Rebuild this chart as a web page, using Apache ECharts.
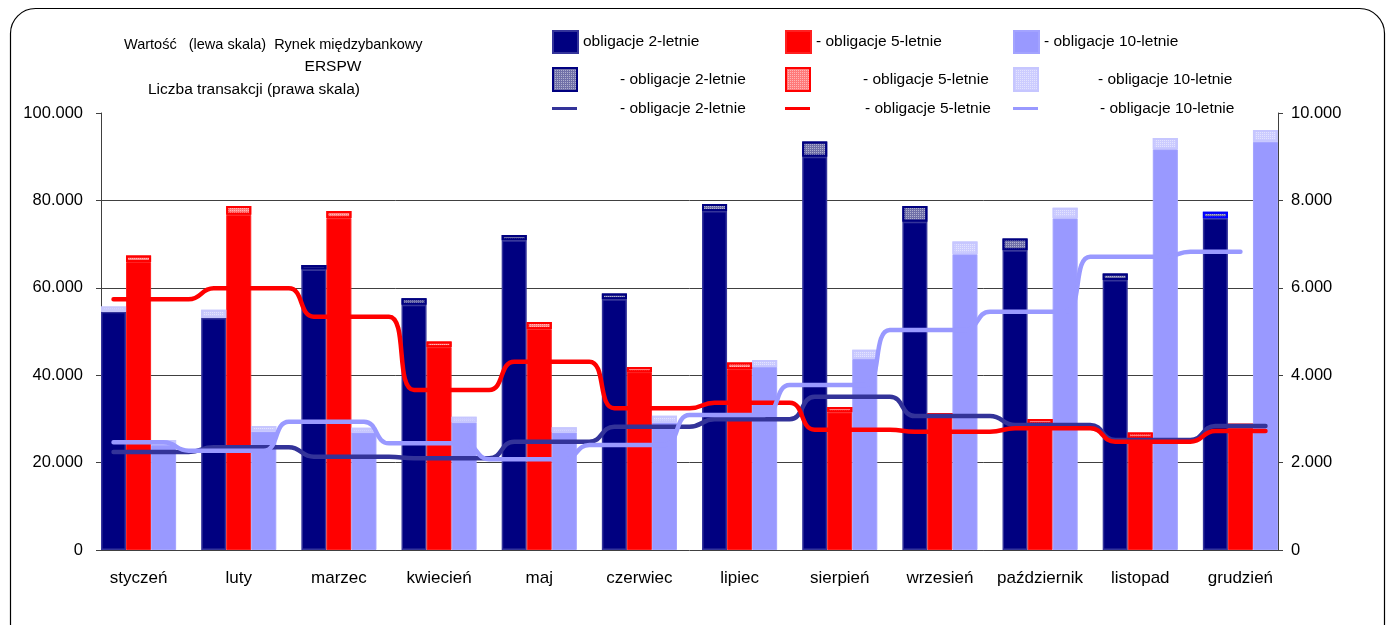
<!DOCTYPE html>
<html><head><meta charset="utf-8">
<script src="https://cdn.jsdelivr.net/npm/echarts@6/dist/echarts.min.js"></script>
<style>html,body{margin:0;padding:0;background:#fff}#c{width:1391px;height:625px}</style>
</head><body><div id="c"></div>
<script>
// ---- data ----
const months = ['styczeń','luty','marzec','kwiecień','maj','czerwiec','lipiec','sierpień','wrzesień','październik','listopad','grudzień'];
// value (left scale), interbank market
const interbank2  = [54500, 53100, 64200, 56100, 70900, 57400, 77600, 90000, 75100, 68600, 61800, 75900];
const interbank5  = [65900, 76700, 75900, 46400, 50600, 40700, 41400, 31500, 30400, 28800, 25600, 28000];
const interbank10 = [24000, 27100, 26900, 29200, 26900, 29200, 41900, 43700, 67700, 75900, 91700, 93400];
// value (left scale), ERSPW
const erspw2  = [1200, 1900, 1000, 1500, 1200, 1300, 1600, 3500, 3600, 2700, 1500, 1500];
const erspw5  = [1500, 2000, 1700, 1300, 1600, 1200, 1500, 1200,  900, 1200, 1300,  900];
const erspw10 = [1200, 1300, 1100, 1300, 1200, 1500, 1600, 2100, 2900, 2400, 2600, 2700];
// number of transactions (right scale)
const trans2  = [2243, 2350, 2135, 2098, 2479, 2822, 2990, 3508, 3066, 2860, 2517, 2838];
const trans5  = [5737, 5989, 5339, 3661, 4309, 3243, 3371, 2753, 2708, 2784, 2479, 2723];
const trans10 = [2465, 2272, 2936, 2441, 2075, 2403, 3089, 3773, 5034, 5454, 6712, 6826];
const leftTicks  = {min: 0, max: 100000, interval: 20000};
const rightTicks = {min: 0, max: 10000, interval: 2000};

// ---- build ----
const SLOTS = 47; // 4 slots per month (3 bars + gap), last month without gap
const slotNames = [], slotLabels = [];
for (let i = 0; i < SLOTS; i++) { slotNames.push('s' + i); slotLabels.push(i % 4 === 1 ? months[(i - 1) / 4] : ''); }
function barSlots(vals, off) { const a = new Array(SLOTS).fill('-'); vals.forEach((v, m) => { a[4 * m + off] = v; }); return a; }
function lineSlotsA(vals) { const a = []; for (let i = 0; i < SLOTS; i++) a.push(vals[Math.floor(i / 4)]); return a; }
function lineSlotsB(vals) { const a = []; for (let i = 0; i < SLOTS; i++) a.push(i > 45 ? '-' : vals[Math.floor((i + 1) / 4)]); return a; }
const fmt = v => String(v).replace(/\B(?=(\d{3})+(?!\d))/g, '.');

const FONT = '"Liberation Sans", Arial, sans-serif';
const N = {
  rm2: 'Rynek międzybankowy - obligacje 2-letnie', rm5: 'Rynek międzybankowy - obligacje 5-letnie', rm10: 'Rynek międzybankowy - obligacje 10-letnie',
  e2: 'ERSPW - obligacje 2-letnie', e5: 'ERSPW - obligacje 5-letnie', e10: 'ERSPW - obligacje 10-letnie',
  t2: 'Liczba transakcji - obligacje 2-letnie', t5: 'Liczba transakcji - obligacje 5-letnie', t10: 'Liczba transakcji - obligacje 10-letnie'
};
const dots = {symbol: 'rect', symbolSize: 1, dashArrayX: [1, 1], dashArrayY: [1, 1], color: 'rgba(255,255,255,0.45)'};

const e2Data = barSlots(erspw2, 0).map((v, i) => {
  if (v === '-') return v;
  if (i < 8) return {value: v, itemStyle: {color: '#ccccfb', borderColor: '#c6c6fb'}};
  if (i === 44) return {value: v, itemStyle: {borderColor: '#0000ff'}};
  return v;
});

function barSeries(name, data, color, border, bw, decal) {
  const s = {name, type: 'bar', stack: 'all', data, barCategoryGap: '0%', z: 2,
    itemStyle: {color, borderColor: border, borderWidth: bw}};
  if (decal) s.itemStyle.decal = decal;
  return s;
}
function lineSeries(name, data, color) {
  return {name, type: 'line', yAxisIndex: 1, data, smooth: 0.5, symbol: 'none', showSymbol: false, z: 4,
    lineStyle: {color, width: 4.5, cap: 'round'}, itemStyle: {color}};
}
function leg(name, left, top, text, iw, ih, pad) {
  return {data: [name], left, top, padding: 0, itemWidth: iw, itemHeight: ih, selectedMode: false, icon: 'rect',
    formatter: () => text,
    textStyle: {fontSize: 15.5, fontFamily: FONT, color: '#000', lineHeight: 18, padding: pad}};
}

const option = {
  animation: false,
  backgroundColor: '#fff',
  grid: {left: 101, right: 113, top: 113, bottom: 75},
  legend: [
    leg(N.rm2, 552, 30, 'obligacje 2-letnie', 25, 22, [0, 0, 0, 0]),
    leg(N.rm5, 785, 30, '- obligacje 5-letnie', 25, 22, [0, 0, 0, 0]),
    leg(N.rm10, 1013, 30, '- obligacje 10-letnie', 25, 22, [0, 0, 0, 0]),
    leg(N.e2, 552, 58, '- obligacje 2-letnie', 24, 23, [0, 0, 25, 38]),
    leg(N.e5, 785, 58, '- obligacje 5-letnie', 24, 23, [0, 0, 25, 48]),
    leg(N.e10, 1013, 58, '- obligacje 10-letnie', 24, 23, [0, 0, 25, 55]),
    leg(N.t2, 552, 81, '- obligacje 2-letnie', 25, 3, [0, 0, 37, 38]),
    leg(N.t5, 785, 81, '- obligacje 5-letnie', 25, 3, [0, 0, 37, 50]),
    leg(N.t10, 1013, 81, '- obligacje 10-letnie', 25, 3, [0, 0, 37, 57])
  ],
  xAxis: {
    type: 'category', data: slotNames, boundaryGap: true,
    axisLine: {lineStyle: {color: '#404040', width: 1}},
    axisTick: {show: false},
    axisLabel: {interval: 0, formatter: (v, i) => slotLabels[i], fontSize: 17, fontFamily: FONT, color: '#000', margin: 20}
  },
  yAxis: [
    {type: 'value', position: 'left', min: leftTicks.min, max: leftTicks.max, interval: leftTicks.interval,
      axisLine: {show: true, lineStyle: {color: '#404040', width: 1}},
      axisTick: {show: true, length: 5, lineStyle: {color: '#404040'}},
      axisLabel: {formatter: fmt, fontSize: 16.5, fontFamily: FONT, color: '#000', margin: 18},
      splitLine: {show: true, showMaxLine: false, showMinLine: false, lineStyle: {color: '#404040', width: 1}}},
    {type: 'value', position: 'right', min: rightTicks.min, max: rightTicks.max, interval: rightTicks.interval,
      axisLine: {show: true, lineStyle: {color: '#404040', width: 1}},
      axisTick: {show: true, length: 5, lineStyle: {color: '#404040'}},
      axisLabel: {formatter: fmt, fontSize: 16.5, fontFamily: FONT, color: '#000', margin: 13},
      splitLine: {show: false}}
  ],
  series: [
    barSeries(N.rm2, barSlots(interbank2, 0), '#000080', '#34349a', 1.5),
    barSeries(N.rm5, barSlots(interbank5, 1), '#ff0000', '#ff2020', 1),
    barSeries(N.rm10, barSlots(interbank10, 2), '#9999ff', '#a3a3ff', 1),
    barSeries(N.e2, e2Data, '#7070a8', '#000080', 2, dots),
    barSeries(N.e5, barSlots(erspw5, 1), '#ff7a7a', '#ff0000', 2, dots),
    barSeries(N.e10, barSlots(erspw10, 2), '#ccccff', '#c6c6ff', 2, dots),
    lineSeries(N.t2, lineSlotsA(trans2), '#333399'),
    lineSeries(N.t5, lineSlotsA(trans5), '#ff0000'),
    lineSeries(N.t10, lineSlotsB(trans10), '#9999ff')
  ],
  graphic: [
    {type: 'rect', silent: true, z: -10, shape: {x: 10.5, y: 8.5, width: 1374, height: 640, r: 25},
      style: {fill: 'none', stroke: '#000', lineWidth: 1.2}},
    {type: 'text', silent: true, x: 124, y: 45, style: {text: 'Wartość   (lewa skala)  Rynek międzybankowy', font: '14.5px ' + FONT, fill: '#000', align: 'left', verticalAlign: 'middle'}},
    {type: 'text', silent: true, x: 333, y: 67, style: {text: 'ERSPW', font: '15.5px ' + FONT, fill: '#000', align: 'center', verticalAlign: 'middle'}},
    {type: 'text', silent: true, x: 148, y: 90, style: {text: 'Liczba transakcji (prawa skala)', font: '15.5px ' + FONT, fill: '#000', align: 'left', verticalAlign: 'middle'}}
  ]
};
const chart = echarts.init(document.getElementById('c'), null, {renderer: 'canvas'});
chart.setOption(option);
</script></body></html>
